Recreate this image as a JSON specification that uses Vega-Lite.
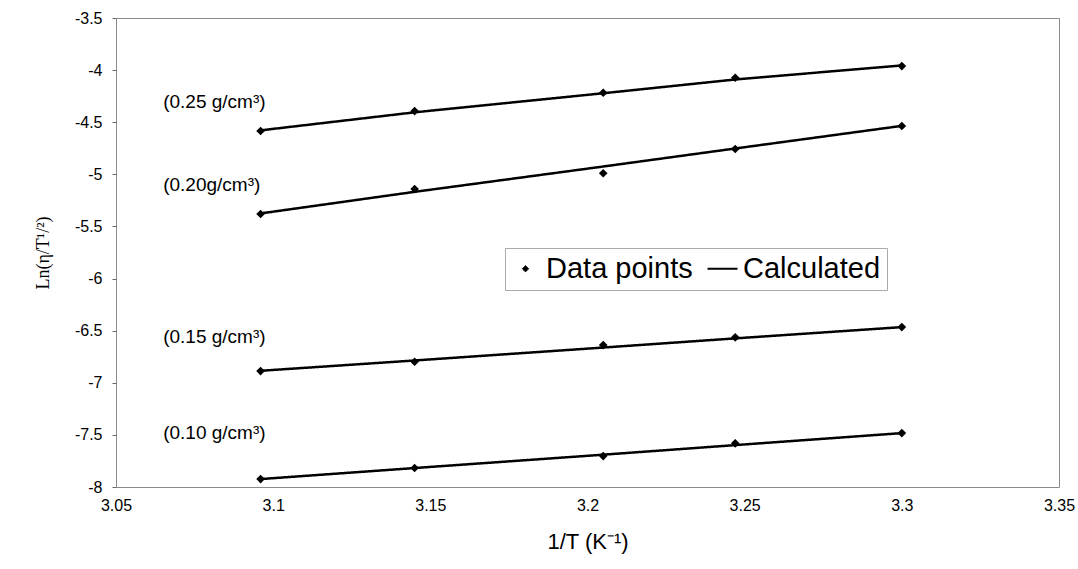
{
  "$schema": "https://vega.github.io/schema/vega-lite/v6.json",
  "autosize": "none",
  "padding": {"left": 116, "top": 18, "right": 19, "bottom": 82},
  "width": 943,
  "height": 469,
  "background": "white",
  "config": {
    "locale": {"number": {"decimal": ".", "thousands": ",", "grouping": [3], "currency": ["$", ""], "minus": "-"}},
    "view": {"stroke": "#8a8a8a", "strokeWidth": 1},
    "font": "Liberation Sans",
    "axis": {"grid": false, "domain": false, "labelFont": "Liberation Sans", "labelColor": "black", "tickColor": "#666", "tickSize": 4, "labelFontSize": 16}
  },
  "datasets": {
    "points": [
      {"x": 3.096, "y": -4.584, "series": "0.25"},
      {"x": 3.145, "y": -4.393, "series": "0.25"},
      {"x": 3.205, "y": -4.217, "series": "0.25"},
      {"x": 3.247, "y": -4.073, "series": "0.25"},
      {"x": 3.300, "y": -3.961, "series": "0.25"},
      {"x": 3.096, "y": -5.381, "series": "0.20"},
      {"x": 3.145, "y": -5.141, "series": "0.20"},
      {"x": 3.205, "y": -4.990, "series": "0.20"},
      {"x": 3.247, "y": -4.757, "series": "0.20"},
      {"x": 3.300, "y": -4.536, "series": "0.20"},
      {"x": 3.096, "y": -6.888, "series": "0.15"},
      {"x": 3.145, "y": -6.798, "series": "0.15"},
      {"x": 3.205, "y": -6.638, "series": "0.15"},
      {"x": 3.247, "y": -6.564, "series": "0.15"},
      {"x": 3.300, "y": -6.466, "series": "0.15"},
      {"x": 3.096, "y": -7.924, "series": "0.10"},
      {"x": 3.145, "y": -7.818, "series": "0.10"},
      {"x": 3.205, "y": -7.703, "series": "0.10"},
      {"x": 3.247, "y": -7.581, "series": "0.10"},
      {"x": 3.300, "y": -7.483, "series": "0.10"}
    ],
    "calc": [
      {"x": 3.096, "y": -4.578, "series": "0.25"},
      {"x": 3.145, "y": -4.405, "series": "0.25"},
      {"x": 3.205, "y": -4.222, "series": "0.25"},
      {"x": 3.247, "y": -4.090, "series": "0.25"},
      {"x": 3.300, "y": -3.955, "series": "0.25"},
      {"x": 3.096, "y": -5.375, "series": "0.20"},
      {"x": 3.145, "y": -5.168, "series": "0.20"},
      {"x": 3.205, "y": -4.925, "series": "0.20"},
      {"x": 3.247, "y": -4.752, "series": "0.20"},
      {"x": 3.300, "y": -4.535, "series": "0.20"},
      {"x": 3.096, "y": -6.885, "series": "0.15"},
      {"x": 3.145, "y": -6.786, "series": "0.15"},
      {"x": 3.205, "y": -6.662, "series": "0.15"},
      {"x": 3.247, "y": -6.574, "series": "0.15"},
      {"x": 3.300, "y": -6.466, "series": "0.15"},
      {"x": 3.096, "y": -7.924, "series": "0.10"},
      {"x": 3.145, "y": -7.818, "series": "0.10"},
      {"x": 3.205, "y": -7.690, "series": "0.10"},
      {"x": 3.247, "y": -7.598, "series": "0.10"},
      {"x": 3.300, "y": -7.483, "series": "0.10"}
    ],
    "labels": [
      {"x": 3.065, "y": -4.306, "text": "(0.25 g/cm³)"},
      {"x": 3.065, "y": -5.103, "text": "(0.20g/cm³)"},
      {"x": 3.065, "y": -6.561, "text": "(0.15 g/cm³)"},
      {"x": 3.065, "y": -7.483, "text": "(0.10 g/cm³)"}
    ]
  },
  "encoding": {
    "x": {
      "field": "x", "type": "quantitative",
      "scale": {"domain": [3.05, 3.35], "nice": false, "zero": false},
      "axis": {"values": [3.05, 3.1, 3.15, 3.2, 3.25, 3.3, 3.35], "format": ".2~f", "title": "1/T (K⁻¹)", "titleFont": "Liberation Sans", "titleFontSize": 22, "titleFontWeight": "normal", "titleColor": "black", "titlePadding": 18, "labelPadding": 10, "tickSize": 0, "labelFlush": false}
    },
    "y": {
      "field": "y", "type": "quantitative",
      "scale": {"domain": [-8, -3.5], "nice": false, "zero": false},
      "axis": {"values": [-8, -7.5, -7, -6.5, -6, -5.5, -5, -4.5, -4, -3.5], "format": ".1~f", "title": "Ln(η/T¹/²)", "titleFont": "Liberation Serif", "titleFontSize": 18, "titleFontWeight": "normal", "titleColor": "black", "titlePadding": 22, "labelPadding": 10}
    }
  },
  "layer": [
    {
      "data": {"name": "calc"},
      "mark": {"type": "line", "color": "black", "strokeWidth": 2.5},
      "encoding": {
        "detail": {"field": "series", "type": "nominal"},
        "strokeDash": {
          "datum": "Calculated", "type": "nominal",
          "scale": {"domain": ["Data points", "Calculated"], "range": [[1, 0], [1, 0]]},
          "legend": {
            "title": null, "orient": "none", "legendX": 389, "legendY": 230, "direction": "horizontal",
            "labelFontSize": 29, "labelFont": "Liberation Sans", "labelColor": "black",
            "symbolStrokeColor": "black", "symbolStrokeWidth": 2, "symbolSize": 900, "symbolType": "stroke",
            "strokeColor": "#aaaaaa", "fillColor": "white", "padding": 6, "columnPadding": 10, "labelOffset": 6,
            "encode": {"symbols": {"update": {
              "shape": {"signal": "datum.value === 'Data points' ? 'diamond' : 'stroke'"},
              "size": {"signal": "datum.value === 'Data points' ? 40 : 900"},
              "fill": {"signal": "datum.value === 'Data points' ? 'black' : 'transparent'"},
              "stroke": {"value": "black"},
              "strokeWidth": {"signal": "datum.value === 'Data points' ? 1 : 2"},
              "strokeDash": {"value": [1, 0]},
              "opacity": {"value": 1}
            }}}
          }
        }
      }
    },
    {
      "data": {"name": "points"},
      "mark": {"type": "point", "shape": "diamond", "filled": true, "color": "black", "opacity": 1, "size": 75}
    },
    {
      "data": {"name": "labels"},
      "mark": {"type": "text", "align": "left", "baseline": "middle", "fontSize": 19, "font": "Liberation Sans", "color": "black"},
      "encoding": {"text": {"field": "text"}}
    }
  ]
}
